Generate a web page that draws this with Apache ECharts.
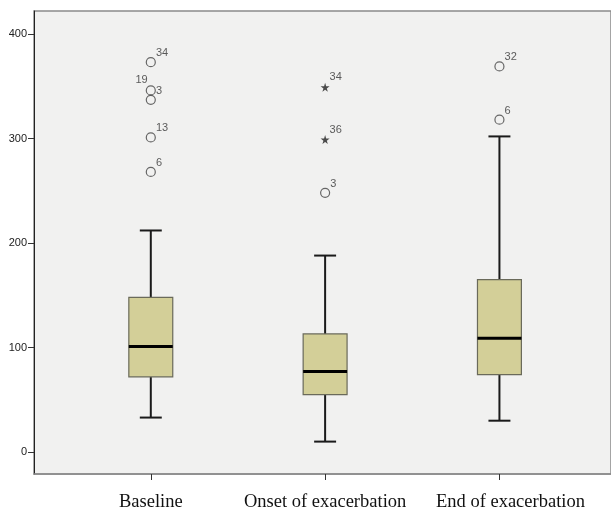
<!DOCTYPE html>
<html>
<head>
<meta charset="utf-8">
<script src="https://cdn.jsdelivr.net/npm/echarts@6/dist/echarts.min.js"></script>
<style>
  html, body { margin: 0; padding: 0; background: #fff; }
  #main { width: 611px; height: 517px; }
</style>
</head>
<body>
<div id="main"></div>
<script>
// 分组
var categories = ['Baseline', 'Onset of exacerbation', 'End of exacerbation'];
// 箱线图五数
var whiskerLow  = [33, 10, 30];
var q1          = [72, 55, 74];
var median      = [101, 77, 109];
var q3          = [148, 113, 165];
var whiskerHigh = [212, 188, 302];
// 异常值 (圆圈)
var outlierCat = [0, 0, 0, 0, 0, 1, 2, 2];
var outlierVal = [373, 346, 337, 301, 268, 248, 369, 318];
var outlierId  = ['34', '19', '3', '13', '6', '3', '32', '6'];
// 极端值 (星号)
var extremeCat = [1, 1];
var extremeVal = [349, 299];
var extremeId  = ['34', '36'];
// y轴刻度
var yTicks = [0, 100, 200, 300, 400];

var myChart = echarts.init(document.getElementById('main'));

var leftLabels = { '0_19': true }; // 19号标签放在点的左上

var boxData = categories.map(function (c, i) {
  return [i, whiskerLow[i], q1[i], median[i], q3[i], whiskerHigh[i]];
});
var outData = outlierVal.map(function (v, i) {
  var item = { value: [outlierCat[i], v, outlierId[i]] };
  if (leftLabels[outlierCat[i] + '_' + outlierId[i]]) {
    item.label = { position: 'left', distance: 0, offset: [2, -10] };
  }
  return item;
});
var extData = extremeVal.map(function (v, i) {
  return [extremeCat[i], v, extremeId[i]];
});

var option = {
  animation: false,
  grid: {
    left: 34, right: 0, top: 11, bottom: 43,
    show: true,
    backgroundColor: '#f1f1f0',
    borderColor: '#8a8a8a',
    borderWidth: 1.5
  },
  xAxis: {
    type: 'value',
    min: -0.67,
    max: 2.64,
    splitLine: { show: false },
    axisLine: { show: true, onZero: false, lineStyle: { color: '#8a8a8a', width: 1.5 } },
    axisTick: {
      show: true, customValues: [0, 1, 2], length: 6,
      lineStyle: { color: '#333', width: 1 }
    },
    axisLabel: {
      customValues: [0, 1, 2],
      formatter: function (v) {
        var i = Math.round(v);
        return i === 2 ? '{end|' + categories[i] + '}' : categories[i];
      },
      fontFamily: 'Liberation Serif',
      fontSize: 18.5,
      color: '#111',
      margin: 19,
      rich: {
        end: { fontFamily: 'Liberation Serif', fontSize: 18.5, color: '#111', padding: [0, 0, 0, 22] }
      }
    }
  },
  yAxis: {
    type: 'value',
    min: -21,
    max: 422,
    splitLine: { show: false },
    axisLine: { show: true, onZero: false, lineStyle: { color: '#222', width: 1 } },
    axisTick: {
      show: true, customValues: yTicks, length: 6,
      lineStyle: { color: '#333', width: 1 }
    },
    axisLabel: {
      customValues: yTicks,
      fontFamily: 'Liberation Sans',
      fontSize: 11,
      color: '#222',
      margin: 7
    }
  },
  series: [
    {
      type: 'custom',
      data: boxData,
      encode: { x: 0, y: [1, 2, 3, 4, 5] },
      renderItem: function (params, api) {
        var x = api.value(0);
        var lo = api.coord([x, api.value(1)]);
        var b1 = api.coord([x, api.value(2)]);
        var md = api.coord([x, api.value(3)]);
        var b3 = api.coord([x, api.value(4)]);
        var hi = api.coord([x, api.value(5)]);
        var unit = api.size([1, 0])[0];
        var hw = unit * 0.126;   // 箱子半宽
        var cw = unit * 0.063;   // 须端半宽
        var cx = lo[0];
        var line = { stroke: '#1a1a1a', lineWidth: 2 };
        return {
          type: 'group',
          children: [
            { type: 'line', shape: { x1: cx, y1: lo[1], x2: cx, y2: b1[1] }, style: line },
            { type: 'line', shape: { x1: cx, y1: b3[1], x2: cx, y2: hi[1] }, style: line },
            { type: 'line', shape: { x1: cx - cw, y1: lo[1], x2: cx + cw, y2: lo[1] }, style: line },
            { type: 'line', shape: { x1: cx - cw, y1: hi[1], x2: cx + cw, y2: hi[1] }, style: line },
            {
              type: 'rect',
              shape: { x: cx - hw, y: b3[1], width: hw * 2, height: b1[1] - b3[1] },
              style: { fill: '#d3cf98', stroke: '#6a6a5a', lineWidth: 1.2 }
            },
            {
              type: 'line',
              shape: { x1: cx - hw, y1: md[1], x2: cx + hw, y2: md[1] },
              style: { stroke: '#000', lineWidth: 3 }
            }
          ]
        };
      }
    },
    {
      type: 'scatter',
      data: outData,
      symbol: 'circle',
      symbolSize: 9,
      itemStyle: { color: 'rgba(0,0,0,0)', borderColor: '#444', borderWidth: 1.2 },
      label: {
        show: true,
        formatter: function (p) { return p.value[2]; },
        position: 'right',
        distance: 0,
        offset: [0, -9],
        fontFamily: 'Liberation Sans',
        fontSize: 11,
        color: '#333'
      }
    },
    {
      type: 'scatter',
      data: extData,
      symbol: 'path://M50,0 L61,35 L98,35 L68,57 L79,91 L50,70 L21,91 L32,57 L2,35 L39,35 Z',
      symbolSize: 9,
      itemStyle: { color: '#222' },
      label: {
        show: true,
        formatter: function (p) { return p.value[2]; },
        position: 'right',
        distance: 0,
        offset: [0, -10],
        fontFamily: 'Liberation Sans',
        fontSize: 11,
        color: '#333'
      }
    }
  ]
};

myChart.setOption(option);
</script>
</body>
</html>
